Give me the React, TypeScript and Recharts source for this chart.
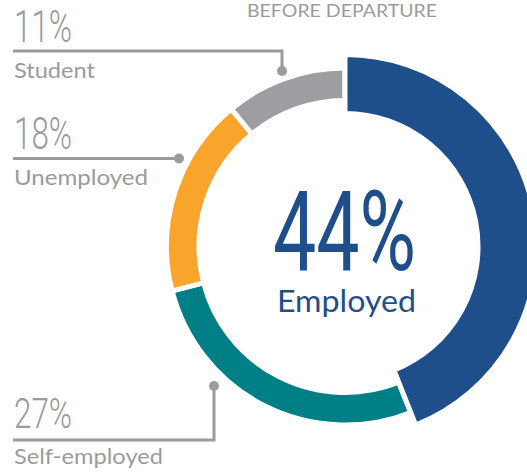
import React from "react";
import { PieChart, Pie, Cell } from "recharts";

const categories = ["Employed", "Self-employed", "Unemployed", "Student"];
const values = [44, 27, 18, 11];
const colors = ["#1F4F8A", "#007F87", "#F9A42B", "#9D9EA1"];
const title = "BEFORE DEPARTURE";

const data = categories.map((name, i) => ({ name, value: values[i] }));
const pct = (i: number) => `${values[i]}%`;

const GRAY = "#9A9B9E";
const BLUE = "#1F4F8A";
const NUM_FONT = "Roboto, sans-serif";
const LBL_FONT = "Lato, sans-serif";

export default function App() {
  return (
    <div style={{ position: "absolute", left: 0, top: 0, width: 527, height: 473, background: "#fff", overflow: "hidden" }}>
      <PieChart width={527} height={473} margin={{ top: 0, right: 0, bottom: 0, left: 0 }}>
        <Pie
          data={data}
          dataKey="value"
          nameKey="name"
          cx={345}
          cy={246.5}
          innerRadius={146}
          outerRadius={178.5}
          startAngle={90}
          endAngle={-270}
          paddingAngle={0}
          isAnimationActive={false}
          labelLine={false}
        >
          {data.map((d, i) => (
            <Cell key={d.name} fill={i === 0 ? "none" : colors[i]} stroke={i === 0 ? "none" : "#fff"} strokeWidth={5} />
          ))}
        </Pie>
        <Pie
          data={data}
          dataKey="value"
          nameKey="name"
          cx={345}
          cy={246.5}
          innerRadius={133}
          outerRadius={192}
          startAngle={90}
          endAngle={-270}
          paddingAngle={0}
          isAnimationActive={false}
          labelLine={false}
        >
          {data.map((d, i) => (
            <Cell key={d.name} fill={i === 0 ? colors[0] : "none"} stroke={i === 0 ? "#fff" : "none"} strokeWidth={5} />
          ))}
        </Pie>
      </PieChart>
      <svg width={527} height={473} style={{ position: "absolute", left: 0, top: 0, pointerEvents: "none" }}>
        <text x={342} y={16.5} textAnchor="middle" fontFamily={LBL_FONT} fontSize={18} fill={GRAY} textLength={190} lengthAdjust="spacingAndGlyphs">{title}</text>

        {/* Student */}
        <text x={14} y={42} fontFamily={NUM_FONT} fontWeight={300} fontSize={45} fill={GRAY} textLength={58} lengthAdjust="spacingAndGlyphs">{pct(3)}</text>
        <polyline points="13,51 282,51 282,71" fill="none" stroke={GRAY} strokeWidth={3} />
        <circle cx={282} cy={71} r={5} fill={GRAY} />
        <text x={14} y={78} fontFamily={LBL_FONT} fontSize={21} fill={GRAY} textLength={81} lengthAdjust="spacingAndGlyphs">{categories[3]}</text>

        {/* Unemployed */}
        <text x={14} y={149} fontFamily={NUM_FONT} fontWeight={300} fontSize={44} fill={GRAY} textLength={58} lengthAdjust="spacingAndGlyphs">{pct(2)}</text>
        <polyline points="13,158.5 179,158.5" fill="none" stroke={GRAY} strokeWidth={3} />
        <circle cx={179} cy={158.5} r={5} fill={GRAY} />
        <text x={14} y={185} fontFamily={LBL_FONT} fontSize={21} fill={GRAY} textLength={134} lengthAdjust="spacingAndGlyphs">{categories[2]}</text>

        {/* Self-employed */}
        <text x={14} y={428} fontFamily={NUM_FONT} fontWeight={300} fontSize={43} fill={GRAY} textLength={58} lengthAdjust="spacingAndGlyphs">{pct(1)}</text>
        <polyline points="214,386 214,440 13,440" fill="none" stroke={GRAY} strokeWidth={3} />
        <circle cx={214} cy={386} r={5} fill={GRAY} />
        <text x={14} y={464} fontFamily={LBL_FONT} fontSize={21} fill={GRAY} textLength={149} lengthAdjust="spacingAndGlyphs">{categories[1]}</text>

        {/* Center */}
        <text x={273} y={270} fontFamily={NUM_FONT} fontWeight={400} fontSize={111} fill={BLUE} textLength={143} lengthAdjust="spacingAndGlyphs">{pct(0)}</text>
        <text x={277} y={312} fontFamily={LBL_FONT} fontSize={30} fill={BLUE} textLength={139} lengthAdjust="spacingAndGlyphs">{categories[0]}</text>
      </svg>
    </div>
  );
}
